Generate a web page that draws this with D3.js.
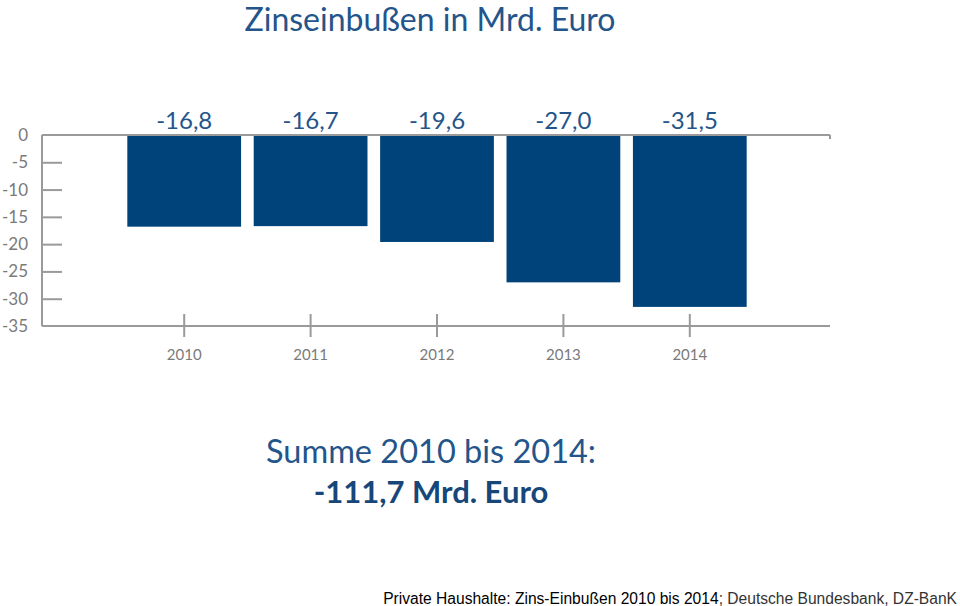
<!DOCTYPE html>
<html>
<head>
<meta charset="utf-8">
<script src="https://cdn.jsdelivr.net/npm/d3@7"></script>
<style>
  body { margin: 0; background: #fff; }
  svg { display: block; }
</style>
</head>
<body>
<div id="chart"></div>
<script>
// data
const years = ["2010", "2011", "2012", "2013", "2014"];
const values = [-16.8, -16.7, -19.6, -27.0, -31.5];
const yTicks = [0, -5, -10, -15, -20, -25, -30, -35];

let width = 960,
height = 606;

const barColor = "#00427a";
const textBlue = "#24558a";
const axisGray = "#9a9a9a";

let svg = d3.select("#chart")
.append("svg")
.attr("width", width)
.attr("height", height);

let x = d3.scaleBand()
    .domain(years)
    .range([121, 753])
    .paddingInner(0.1)
    .paddingOuter(0.05);

let y = d3.scaleLinear()
    .domain([0, -35])
    .range([135, 326]);

// german decimal comma, plain hyphen as minus
const fmt = v => d3.format(".1f")(v).replace("\u2212", "-").replace(".", ",");

// title
svg.append("text").attr("x", 430).attr("y", 31).attr("text-anchor", "middle")
    .text("Zinseinbußen in Mrd. Euro")
    .style("font-family", "Lato, sans-serif").style("font-size", "32px").style("fill", textBlue);

// bars
svg.append("g").selectAll("rect")
    .data(values)
    .join("rect")
    .attr("x", (d, i) => x(years[i]))
    .attr("width", x.bandwidth())
    .attr("y", y(0))
    .attr("height", d => y(d) - y(0))
    .attr("fill", barColor);

// value labels above the bars
svg.append("g").selectAll("text")
    .data(values)
    .join("text")
    .attr("x", (d, i) => x(years[i]) + x.bandwidth() / 2)
    .attr("y", y(0) - 6)
    .attr("text-anchor", "middle")
    .text(d => fmt(d))
    .style("font-family", "Lato, sans-serif").style("font-size", "24px").style("fill", textBlue);

// frame lines: top and bottom, left
let frame = svg.append("g").attr("stroke", axisGray).attr("stroke-width", 2).attr("fill", "none");
frame.append("line").attr("x1", 42).attr("x2", 830).attr("y1", y(0)).attr("y2", y(0));
frame.append("line").attr("x1", 42).attr("x2", 830).attr("y1", y(-35)).attr("y2", y(-35));
frame.append("line").attr("x1", 42).attr("x2", 42).attr("y1", y(0)).attr("y2", y(-35));
frame.append("line").attr("x1", 830).attr("x2", 830).attr("y1", y(0)).attr("y2", y(0) + 4);

// y axis
let yAxis = svg.append("g")
    .attr("transform", "translate(42,0)")
    .call(d3.axisRight(y).tickValues(yTicks.filter(t => t !== 0 && t !== -35)).tickSize(20).tickFormat(""));
yAxis.select(".domain").remove();
yAxis.selectAll("line").attr("stroke", axisGray).attr("stroke-width", 2);

svg.append("g").selectAll("text")
    .data(yTicks)
    .join("text")
    .attr("x", 28)
    .attr("y", d => y(d))
    .attr("dy", "0.35em")
    .attr("text-anchor", "end")
    .text(d => d)
    .style("font-family", "Lato, sans-serif").style("font-size", "17px").style("fill", "#7a7a7a");

// x axis
let xAxis = svg.append("g")
    .attr("transform", `translate(0,${y(-35) - 12})`)
    .call(d3.axisBottom(x).tickSize(23).tickPadding(12));
xAxis.select(".domain").remove();
xAxis.selectAll("line").attr("stroke", axisGray).attr("stroke-width", 2);
xAxis.selectAll("text")
    .style("font-family", "Lato, sans-serif").style("font-size", "15px").style("fill", "#7a7a7a");

// sum
svg.append("text").attr("x", 431).attr("y", 463).attr("text-anchor", "middle")
    .text("Summe 2010 bis 2014:")
    .style("font-family", "Lato, sans-serif").style("font-size", "32.5px").style("fill", textBlue);
svg.append("text").attr("x", 431).attr("y", 503).attr("text-anchor", "middle")
    .text("-111,7 Mrd. Euro")
    .style("font-family", "Lato, sans-serif").style("font-weight", "bold").style("font-size", "31px").style("fill", "#17477a");

// source line
let src = svg.append("text").attr("x", 957).attr("y", 604).attr("text-anchor", "end")
    .style("font-family", "'Liberation Sans', Arial, sans-serif").style("font-size", "15.6px");
src.append("tspan").text("Private Haushalte: Zins-Einbußen 2010 bis 2014").style("fill", "#000");
src.append("tspan").text("; Deutsche Bundesbank, DZ-BanK").style("fill", "#333");
</script>
</body>
</html>
